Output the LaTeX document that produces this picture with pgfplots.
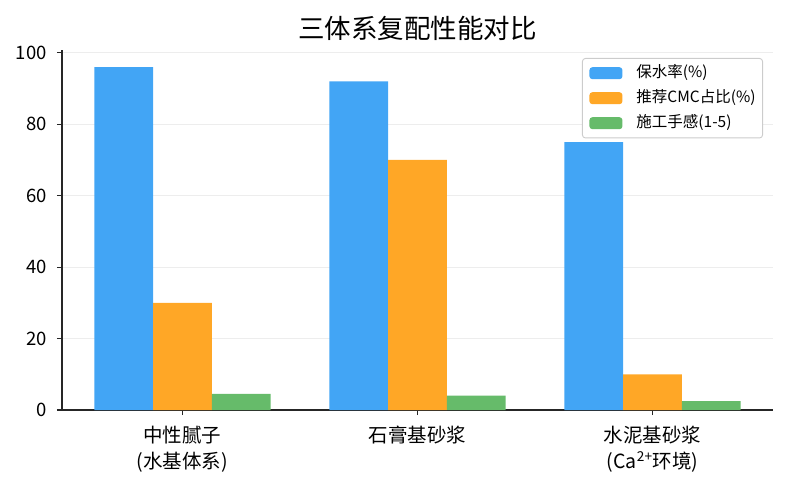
\documentclass[border=0pt]{standalone}
\usepackage{fontspec}
\setmainfont{Noto Sans CJK SC}
\usepackage{pgfplots}
\usepackage{pgfplotstable}
\pgfplotsset{compat=1.18}

\definecolor{cBlue}{HTML}{42A5F5}
\definecolor{cOrange}{HTML}{FFA726}
\definecolor{cGreen}{HTML}{66BB6A}

% columns: category index, water retention, CMC share, workability
\pgfplotstableread{
x baoshui cmc shougan
0 96 30 4.5
1 92 70 4.0
2 75 10 2.5
}\data

\begin{document}
\begin{tikzpicture}
\path[use as bounding box] (-62pt,-74pt) rectangle (724pt,410pt);
\begin{axis}[
  at={(0,0)}, anchor=south west,
  scale only axis, width=711pt, height=360pt,
  xmin=-0.5125, xmax=2.5125, ymin=0, ymax=100.8,
  ybar, bar width=0.25,
  xtick={0,1,2},
  xticklabels={{中性腻子\\(水基体系)},{石膏基砂浆},{水泥基砂浆\\(Ca\textsuperscript{2+}环境)}},
  ytick={0,20,40,60,80,100},
  axis x line*=bottom, axis y line*=left,
  axis line style={line width=1.2pt, black!85, -},
  tick align=outside, major tick length=5pt,
  tick style={line width=1.1pt, black!85},
  ymajorgrids, grid style={line width=0.9pt, black!7},
  /pgf/number format/assume math mode=true,
  ticklabel style={inner sep=0pt},
  xticklabel style={font=\fontsize{19.5}{26}\selectfont, align=center,
    anchor=north, yshift=-11pt},
  yticklabel style={font=\fontsize{18.5}{22}\selectfont, anchor=east, xshift=-10pt},
  title={三体系复配性能对比},
  title style={at={(0.5,1)}, anchor=base, yshift=5pt, inner sep=0pt,
    font=\fontsize{26.5}{30}\selectfont},
  legend image code/.code={\fill[#1] (0pt,-6pt) rectangle (33pt,6pt);},
  legend style={at={(1,1)}, anchor=north east, xshift=-10pt, yshift=-8pt,
    draw=black!20, line width=0.9pt, rounded corners=3pt, fill=white,
    inner xsep=7pt, inner ysep=7pt, row sep=9.5pt, column sep=14pt,
    font=\fontsize{15.5}{18}\selectfont,
    nodes={inner sep=0pt, text height=12pt, text depth=3.5pt}},
  legend cell align=left,
]
\addplot[fill=cBlue, draw=none, bar shift=-0.25] table[x=x, y=baoshui] {\data};
\addplot[fill=cOrange, draw=none, bar shift=0] table[x=x, y=cmc] {\data};
\addplot[fill=cGreen, draw=none, bar shift=0.25] table[x=x, y=shougan] {\data};
\legend{保水率(\%), 推荐CMC占比(\%), 施工手感(1-5)}
\end{axis}
\end{tikzpicture}
\end{document}
